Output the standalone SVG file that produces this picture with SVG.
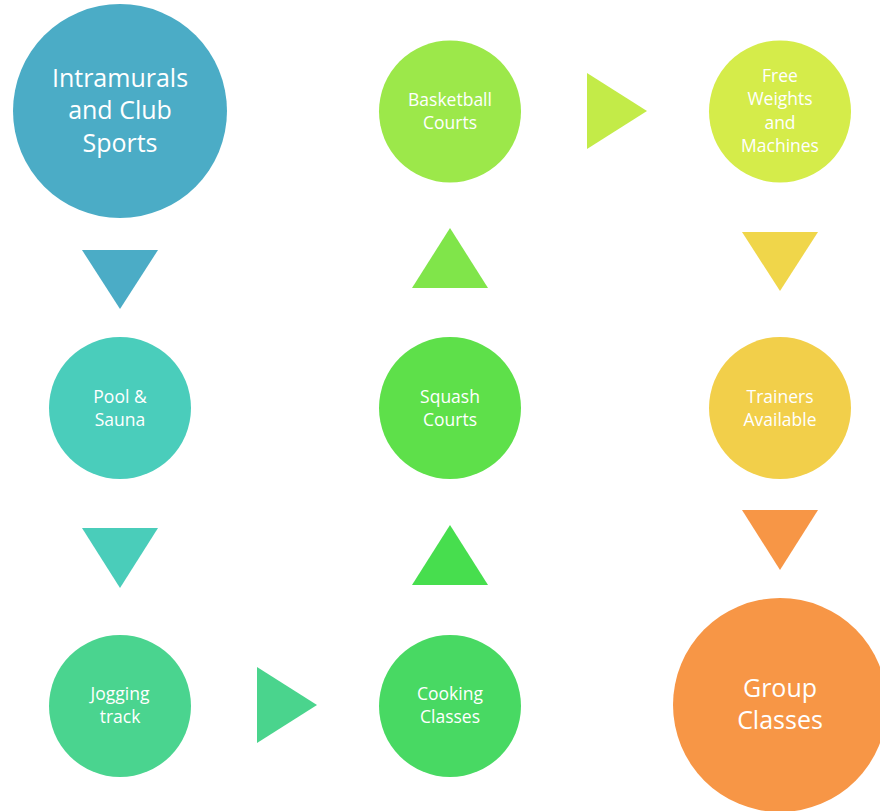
<svg xmlns="http://www.w3.org/2000/svg" width="880" height="811" viewBox="0 0 880 811">
<style>
text{font-family:"Open Sans","Noto Sans","Liberation Sans",sans-serif;fill:#fff;text-anchor:middle}
.s{font-size:17.5px}
.b{font-size:25px}
</style>
<rect width="880" height="811" fill="#fff"/>
<g id="connectors">
<polygon points="82,250 158,250 120,309" fill="#4BACC6"/>
<polygon points="82,528 158,528 120,588" fill="#4ACDBA"/>
<polygon points="257,667 317,705 257,743" fill="#4AD48D"/>
<polygon points="412,585 488,585 450,525" fill="#47DE4E"/>
<polygon points="412,288 488,288 450,228" fill="#80E54A"/>
<polygon points="587,73 647,111 587,149" fill="#C3EB48"/>
<polygon points="742,232 818,232 780,291" fill="#F0D64A"/>
<polygon points="742,510 818,510 780,570" fill="#F79646"/>
</g>
<g id="intramurals">
<circle cx="120" cy="111" r="107" fill="#4BACC6"/>
<text class="b" x="120" y="87">Intramurals</text>
<text class="b" x="120" y="119">and Club</text>
<text class="b" x="120" y="152">Sports</text>
</g>
<g id="pool">
<circle cx="120" cy="408" r="71" fill="#4ACDBB"/>
<text class="s" x="120" y="403">Pool &amp;</text>
<text class="s" x="120" y="426">Sauna</text>
</g>
<g id="jogging">
<circle cx="120" cy="706" r="71" fill="#4AD48F"/>
<text class="s" x="120" y="700">Jogging</text>
<text class="s" x="120" y="723">track</text>
</g>
<g id="cooking">
<circle cx="450" cy="706" r="71" fill="#48D963"/>
<text class="s" x="450" y="700">Cooking</text>
<text class="s" x="450" y="723">Classes</text>
</g>
<g id="squash">
<circle cx="450" cy="408" r="71" fill="#5EE04A"/>
<text class="s" x="450" y="403">Squash</text>
<text class="s" x="450" y="426">Courts</text>
</g>
<g id="basketball">
<circle cx="450" cy="111.5" r="71" fill="#9CE84A"/>
<text class="s" x="450" y="106">Basketball</text>
<text class="s" x="450" y="129">Courts</text>
</g>
<g id="freeweights">
<circle cx="780" cy="111.5" r="71" fill="#D5EC4A"/>
<text class="s" x="780" y="82">Free</text>
<text class="s" x="780" y="105">Weights</text>
<text class="s" x="780" y="129">and</text>
<text class="s" x="780" y="152">Machines</text>
</g>
<g id="trainers">
<circle cx="780" cy="408" r="71" fill="#F2CF4A"/>
<text class="s" x="780" y="403">Trainers</text>
<text class="s" x="780" y="426">Available</text>
</g>
<g id="group">
<circle cx="780" cy="705" r="107" fill="#F79646"/>
<text class="b" x="780" y="697">Group</text>
<text class="b" x="780" y="729">Classes</text>
</g>
</svg>
